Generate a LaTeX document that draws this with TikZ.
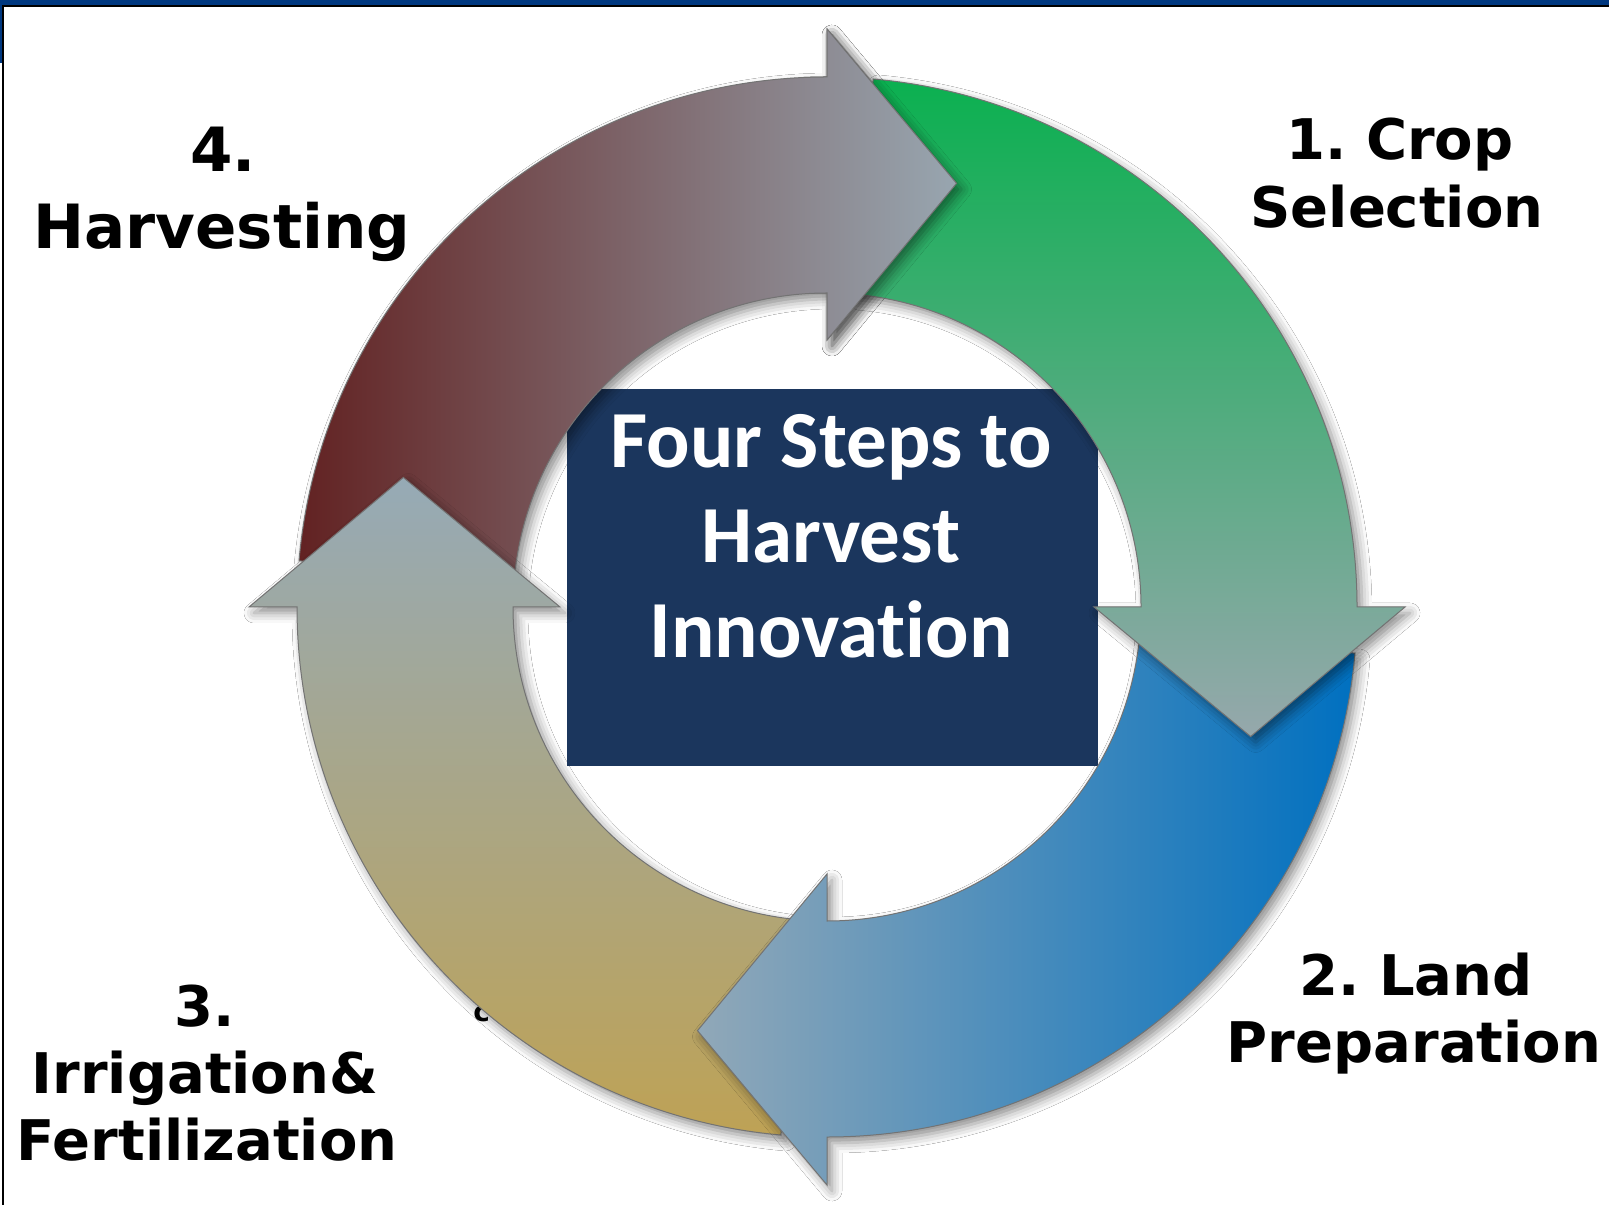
\documentclass[tikz,border=0pt]{standalone}
\usepackage{fontspec}
\newfontfamily\lblfont{DejaVu Sans}
\newfontfamily\ctrfont{Carlito}[Ligatures={NoCommon}]
\usetikzlibrary{shadows.blur}
\frenchspacing
\definecolor{topblue}{RGB}{0,56,128}
\definecolor{navybox}{RGB}{27,54,93}
\definecolor{gtop}{RGB}{11,176,80}
\definecolor{gbot}{RGB}{150,168,172}
\definecolor{bleft}{RGB}{145,168,184}
\definecolor{bright}{RGB}{0,112,192}
\definecolor{ktop}{RGB}{150,170,182}
\definecolor{kbot}{RGB}{190,162,85}
\definecolor{rleft}{RGB}{98,34,34}
\definecolor{rright}{RGB}{152,166,176}
\newcommand\ringarrow[1]{(#1+85:530) arc[start angle=#1+85, end angle=#1, radius=530] -- (#1:578) -- (#1-17:443) -- (#1:267) -- (#1:314) arc[start angle=#1, end angle=#1+85, radius=314] -- cycle}
\tikzset{
  softshadow/.style={blur shadow={shadow xshift=2.5pt, shadow yshift=-3pt, shadow blur radius=5pt, shadow opacity=45}},
  arrowfill/.style={draw=black!55, line width=0.5pt},
  arrowbody/.style={arrowfill, softshadow},
  stepnum/.style={font=\lblfont\bfseries\fontsize{28}{34}\selectfont, text=black, anchor=base, inner sep=0pt},
  bignum/.style={font=\lblfont\bfseries\fontsize{30.5}{37}\selectfont, text=black, anchor=base, inner sep=0pt},
  ctrtext/.style={font=\ctrfont\bfseries\fontsize{40.5}{48}\selectfont, text=white, anchor=base, inner sep=0pt},
  centerbox/.style={fill=navybox, draw=none, minimum width=265.5pt, minimum height=188.5pt, inner sep=0pt}
}
\begin{document}
\begin{tikzpicture}[x=0.5pt,y=0.5pt]
\useasboundingbox (0,0) rectangle (1609,1205);
\fill[white] (0,0) rectangle (1609,1205);
% frame
\fill[topblue] (0,1200) rectangle (1609,1205);
\fill[black] (0,1197.5) rectangle (1609,1200);
\fill[topblue] (0,1142) rectangle (2,1200);
\fill[black] (2,0) rectangle (4,1198);
% central box
\node[centerbox] (box) at (832.5,627.5) {};
% hidden text fragment behind the ring
\node[font=\lblfont\bfseries\fontsize{14}{16}\selectfont, anchor=base west, inner sep=0pt] (frag) at (473,184) {c};
% ring of arrows
\begin{scope}[shift={(827,598)}]
  \path[arrowbody, left color=rleft, right color=rright] \ringarrow{90};
  \path[arrowbody, top color=ktop, bottom color=kbot] \ringarrow{180};
  \path[arrowbody, left color=bleft, right color=bright] \ringarrow{-90};
  \path[arrowbody, top color=gtop, bottom color=gbot] \ringarrow{0};
  % head of arrow 4 lies over the tail of arrow 1
  \path[softshadow] (90:578) -- (73:443) -- (90:267) -- cycle;
  \begin{scope}
    \clip (0,0) -- (93:720) arc[start angle=93, end angle=60, radius=720] -- cycle;
    \path[arrowfill, left color=rleft, right color=rright] \ringarrow{90};
  \end{scope}
\end{scope}
% centre title
\node[ctrtext] (t1) at (831,737) {Four Steps to};
\node[ctrtext] (t2) at (831,642) {Harvest};
\node[ctrtext] (t3) at (831,547) {Innovation};
% step labels
\node[stepnum] (s1a) at (1400,1045) {1. Crop};
\node[stepnum] (s1b) at (1397,977) {Selection};
\node[stepnum] (s2a) at (1416,210) {2. Land};
\node[stepnum] (s2b) at (1414,143) {Preparation};
\node[stepnum] (s3a) at (205,179) {3.};
\node[stepnum] (s3b) at (205,112) {Irrigation\&};
\node[stepnum] (s3c) at (207,45) {Fertilization};
\node[bignum] (s4a) at (223,1033) {4.};
\node[bignum] (s4b) at (222,956) {Harvesting};
\end{tikzpicture}
\end{document}
